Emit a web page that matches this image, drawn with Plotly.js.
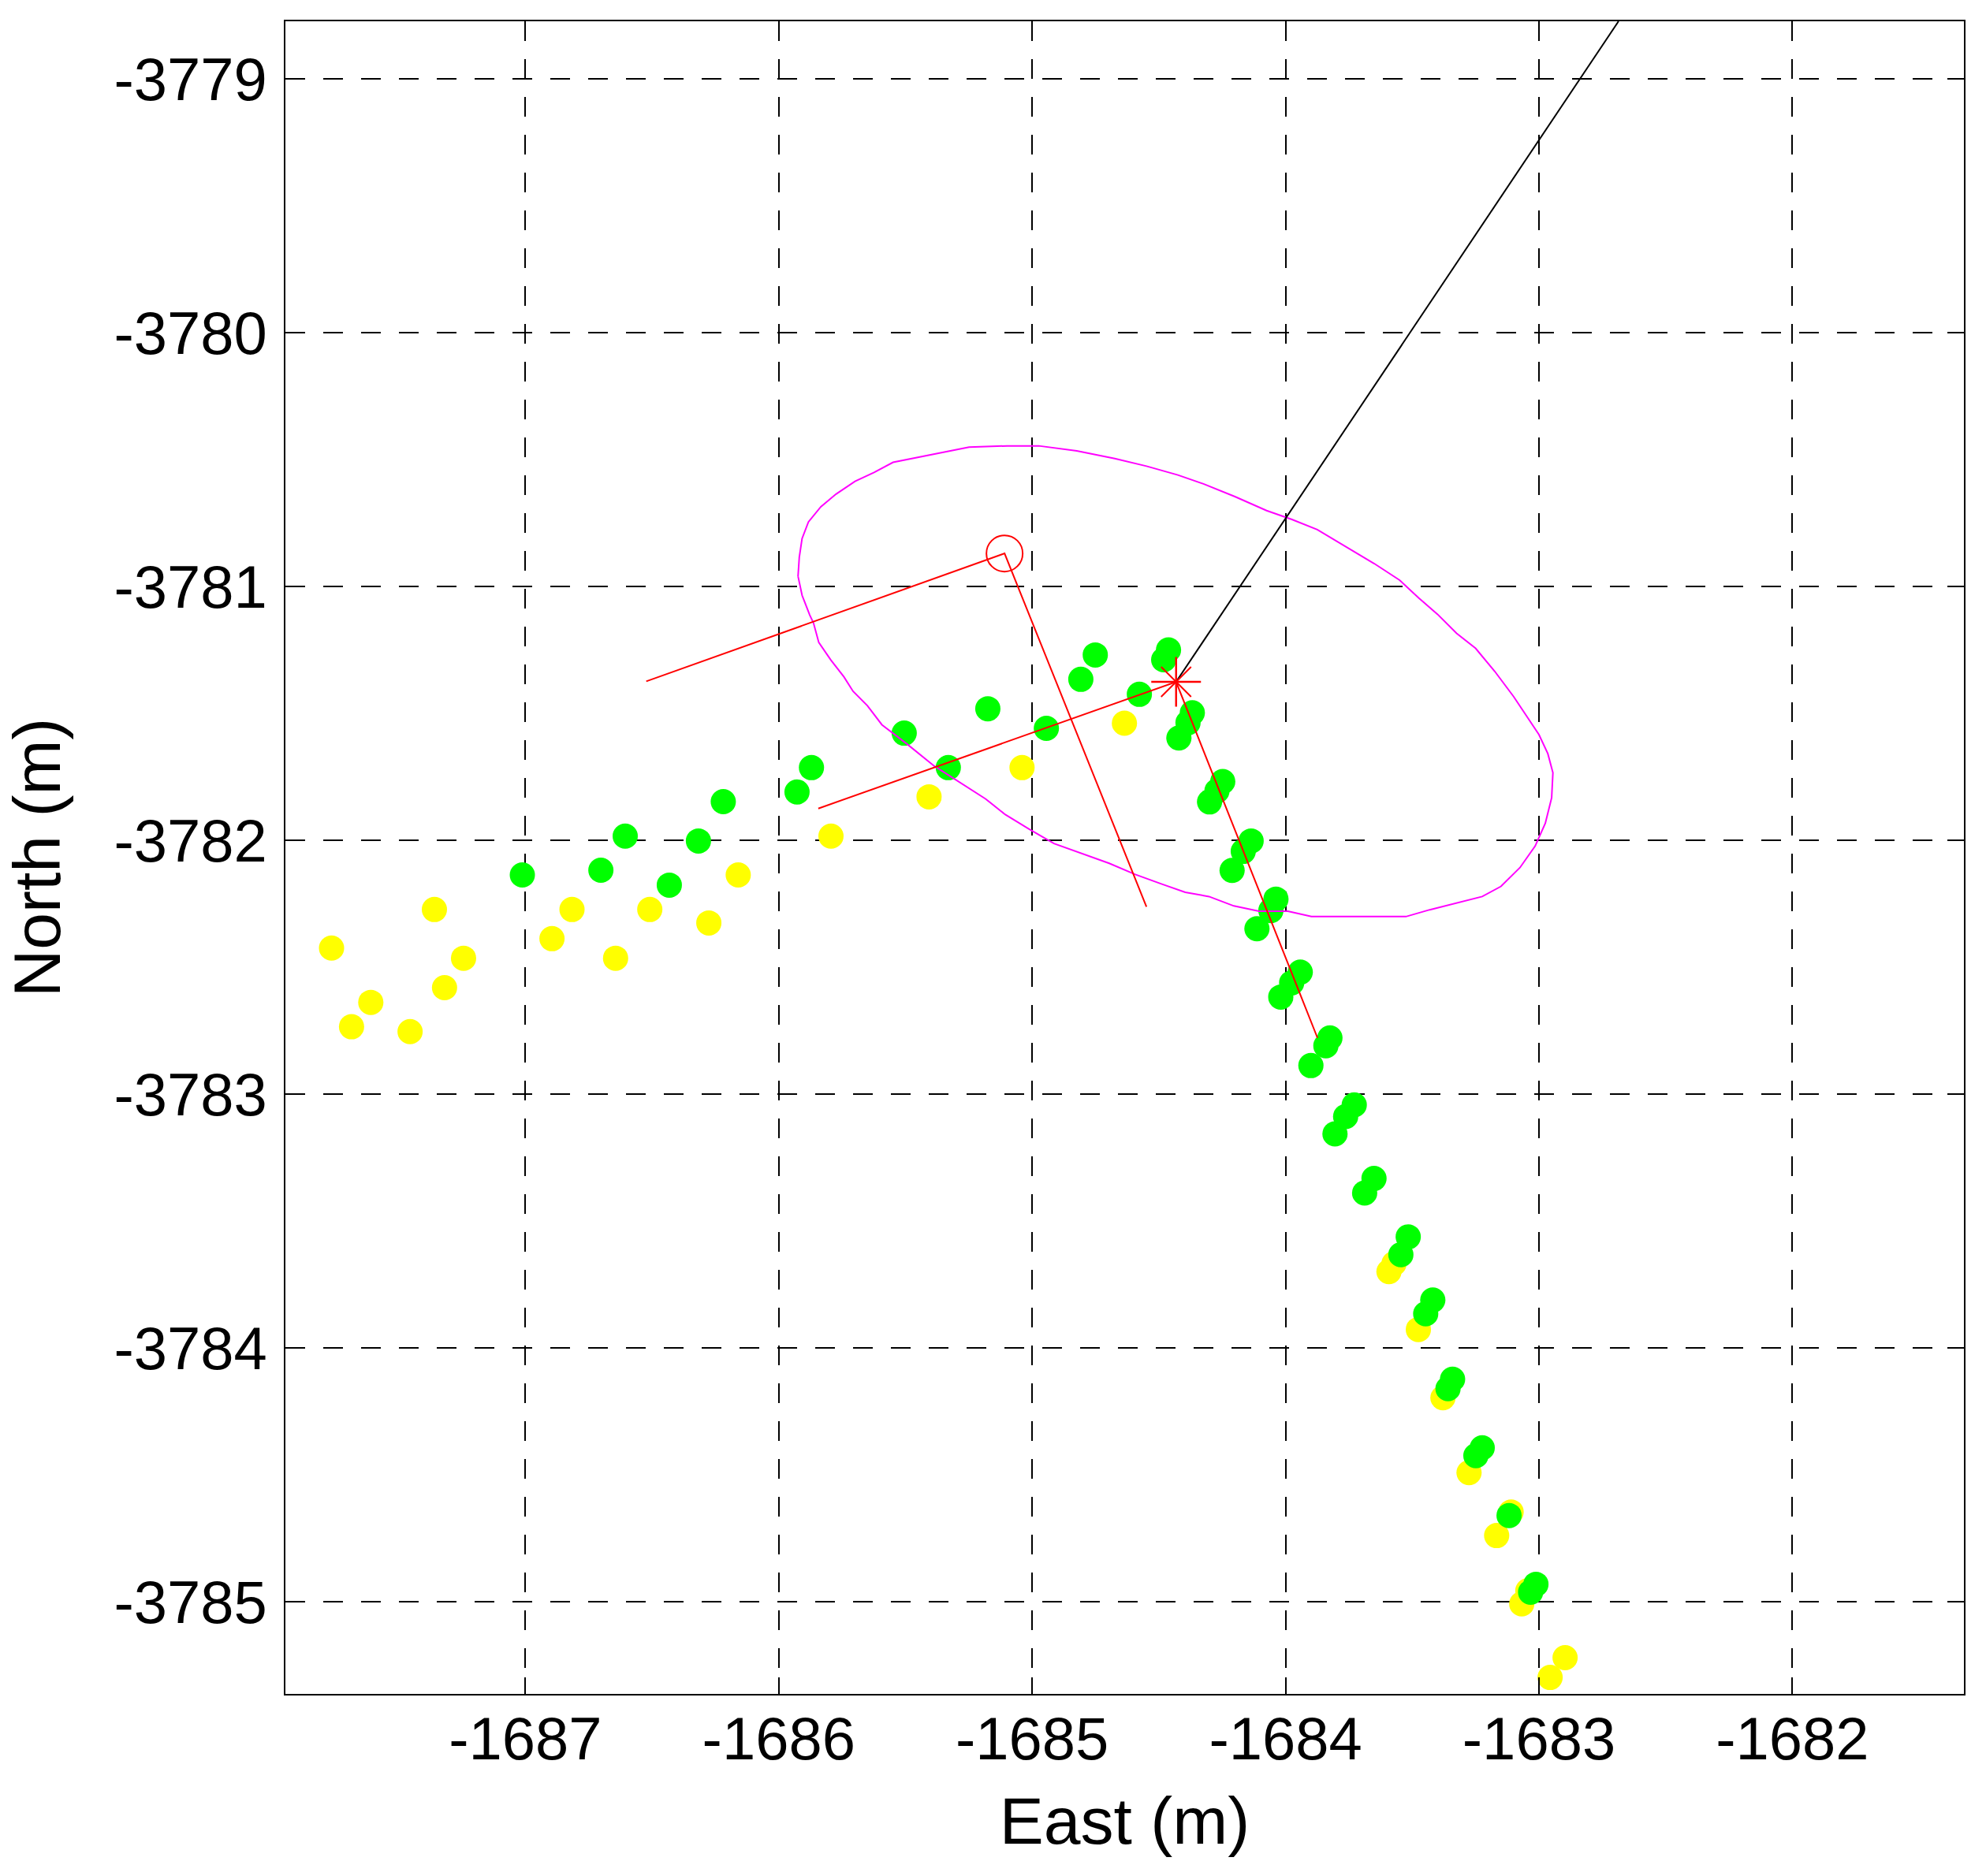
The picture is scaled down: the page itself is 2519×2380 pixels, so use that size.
<!DOCTYPE html>
<html>
<head>
<meta charset="utf-8">
<script src="https://cdn.plot.ly/plotly-3.0.1.min.js"></script>
<style>html,body{margin:0;padding:0;background:#fff;}</style>
</head>
<body>
<div id="chart" style="width:2519px;height:2380px;"></div>
<script>
// ---- data (metres) ----
const yellowEast = [-1687.765,-1687.359,-1687.244,-1687.319,-1687.610,-1687.686,-1687.455,-1686.816,-1686.895,-1686.509,-1686.644,-1686.276,-1686.160,-1685.794,-1685.407,-1685.040,-1684.636,-1683.572,-1683.592,-1683.476,-1683.379,-1683.276,-1683.110,-1683.167,-1683.044,-1683.068,-1682.897,-1682.956];
const yellowNorth = [-3782.424,-3782.272,-3782.464,-3782.580,-3782.638,-3782.734,-3782.753,-3782.272,-3782.387,-3782.272,-3782.464,-3782.325,-3782.136,-3781.983,-3781.828,-3781.713,-3781.538,-3783.667,-3783.699,-3783.927,-3784.196,-3784.491,-3784.646,-3784.739,-3784.956,-3785.008,-3785.220,-3785.298];

const greenEast = [-1687.012,-1686.606,-1686.702,-1686.432,-1686.317,-1686.219,-1685.928,-1685.871,-1685.505,-1685.331,-1685.175,-1684.944,-1684.808,-1684.751,-1684.577,-1684.462,-1684.481,-1684.368,-1684.385,-1684.421,-1684.248,-1684.271,-1684.300,-1684.136,-1684.167,-1684.211,-1684.038,-1684.058,-1684.113,-1683.942,-1683.976,-1684.019,-1683.825,-1683.841,-1683.900,-1683.729,-1683.763,-1683.805,-1683.651,-1683.688,-1683.516,-1683.545,-1683.419,-1683.447,-1683.341,-1683.359,-1683.224,-1683.249,-1683.118,-1683.012,-1683.033];
const greenNorth = [-3782.136,-3781.983,-3782.117,-3782.176,-3782.002,-3781.847,-3781.809,-3781.713,-3781.577,-3781.713,-3781.481,-3781.558,-3781.365,-3781.269,-3781.424,-3781.249,-3781.288,-3781.497,-3781.536,-3781.596,-3781.768,-3781.805,-3781.848,-3782.002,-3782.043,-3782.118,-3782.231,-3782.276,-3782.348,-3782.519,-3782.561,-3782.617,-3782.778,-3782.809,-3782.887,-3783.042,-3783.088,-3783.156,-3783.332,-3783.389,-3783.562,-3783.632,-3783.811,-3783.865,-3784.123,-3784.160,-3784.393,-3784.424,-3784.660,-3784.931,-3784.962];

const ellipseEast = [-1685.924,-1685.919,-1685.908,-1685.883,-1685.834,-1685.774,-1685.699,-1685.624,-1685.549,-1685.474,-1685.374,-1685.249,-1685.099,-1684.974,-1684.824,-1684.674,-1684.549,-1684.425,-1684.324,-1684.200,-1684.075,-1683.975,-1683.875,-1683.775,-1683.650,-1683.550,-1683.475,-1683.400,-1683.325,-1683.250,-1683.175,-1683.100,-1683.050,-1683.000,-1682.965,-1682.945,-1682.950,-1682.975,-1683.015,-1683.075,-1683.150,-1683.224,-1683.431,-1683.525,-1683.898,-1683.991,-1684.105,-1684.204,-1684.302,-1684.396,-1684.488,-1684.593,-1684.696,-1684.810,-1684.914,-1685.012,-1685.106,-1685.184,-1685.282,-1685.386,-1685.495,-1685.593,-1685.650,-1685.707,-1685.743,-1685.795,-1685.842,-1685.863,-1685.878,-1685.908,-1685.924];
const ellipseNorth = [-3780.959,-3780.884,-3780.810,-3780.745,-3780.685,-3780.635,-3780.585,-3780.550,-3780.510,-3780.495,-3780.475,-3780.450,-3780.445,-3780.445,-3780.465,-3780.495,-3780.525,-3780.560,-3780.595,-3780.645,-3780.700,-3780.735,-3780.775,-3780.834,-3780.909,-3780.974,-3781.044,-3781.109,-3781.184,-3781.243,-3781.333,-3781.433,-3781.508,-3781.583,-3781.658,-3781.733,-3781.832,-3781.932,-3782.022,-3782.107,-3782.181,-3782.221,-3782.273,-3782.300,-3782.300,-3782.279,-3782.279,-3782.258,-3782.221,-3782.204,-3782.172,-3782.134,-3782.090,-3782.048,-3782.012,-3781.955,-3781.898,-3781.836,-3781.774,-3781.707,-3781.619,-3781.544,-3781.469,-3781.412,-3781.355,-3781.288,-3781.220,-3781.143,-3781.111,-3781.034,-3780.959];

const frameAEast = [-1686.523,-1685.109,-1684.549];
const frameANorth = [-3781.373,-3780.869,-3782.261];
const frameBEast = [-1685.844,-1684.432,-1683.874];
const frameBNorth = [-3781.874,-3781.375,-3782.778];
const headingEast = [-1684.432,-1682.686];
const headingNorth = [-3781.375,-3778.772];
const circleEast = [-1685.109];
const circleNorth = [-3780.869];
const starEast = [-1684.432];
const starNorth = [-3781.375];

const xTicks = [-1687,-1686,-1685,-1684,-1683,-1682];
const yTicks = [-3779,-3780,-3781,-3782,-3783,-3784,-3785];

// ---- traces ----
const FONT = 'Liberation Sans, Arial, Helvetica, sans-serif';
const traces = [
  {x: yellowEast, y: yellowNorth, mode: 'markers', type: 'scatter',
   marker: {color: '#FFFF00', size: 32, line: {width: 0}}},
  {x: greenEast, y: greenNorth, mode: 'markers', type: 'scatter',
   marker: {color: '#00FF00', size: 32, line: {width: 0}}},
  {x: ellipseEast, y: ellipseNorth, mode: 'lines', type: 'scatter',
   line: {color: '#FF00FF', width: 2}},
  {x: frameAEast, y: frameANorth, mode: 'lines', type: 'scatter',
   line: {color: '#FF0000', width: 2}},
  {x: frameBEast, y: frameBNorth, mode: 'lines', type: 'scatter',
   line: {color: '#FF0000', width: 2}},
  {x: headingEast, y: headingNorth, mode: 'lines', type: 'scatter',
   line: {color: '#000000', width: 2}},
  {x: circleEast, y: circleNorth, mode: 'markers', type: 'scatter',
   marker: {symbol: 'circle-open', color: '#FF0000', size: 46, line: {color: '#FF0000', width: 2}}},
  {x: starEast, y: starNorth, mode: 'markers', type: 'scatter',
   marker: {symbol: 'cross-thin-open', color: '#FF0000', size: 45, line: {color: '#FF0000', width: 2.5}}},
  {x: starEast, y: starNorth, mode: 'markers', type: 'scatter',
   marker: {symbol: 'x-thin-open', color: '#FF0000', size: 38, line: {color: '#FF0000', width: 2}}}
];

const axisCommon = {
  showgrid: true, gridcolor: '#000000', gridwidth: 2, griddash: '25px,23px',
  zeroline: false, showline: true, linecolor: '#000000', linewidth: 2, mirror: 'ticks',
  ticks: 'inside', ticklen: 21, tickwidth: 2, tickcolor: '#000000',
  tickfont: {family: FONT, size: 76, color: '#000000'},
  tickmode: 'array', automargin: false, fixedrange: true
};

const layout = {
  width: 2519, height: 2380,
  margin: {l: 362, r: 28, t: 27, b: 231, pad: 0},
  paper_bgcolor: '#ffffff', plot_bgcolor: '#ffffff',
  showlegend: false,
  xaxis: Object.assign({}, axisCommon, {
    range: [-1687.947, -1681.323], tickvals: xTicks, ticktext: xTicks.map(String),
    ticklabelstandoff: -10,
    title: {text: 'East (m)', font: {family: FONT, size: 84, color: '#000000'}, standoff: 33}
  }),
  yaxis: Object.assign({}, axisCommon, {
    range: [-3785.363, -3778.772], tickvals: yTicks, ticktext: yTicks.map(String),
    ticklabelstandoff: 6,
    title: {text: 'North (m)', font: {family: FONT, size: 84, color: '#000000'}, standoff: 69}
  })
};

Plotly.newPlot('chart', traces, layout, {displayModeBar: false, staticPlot: true});
</script>
</body>
</html>
